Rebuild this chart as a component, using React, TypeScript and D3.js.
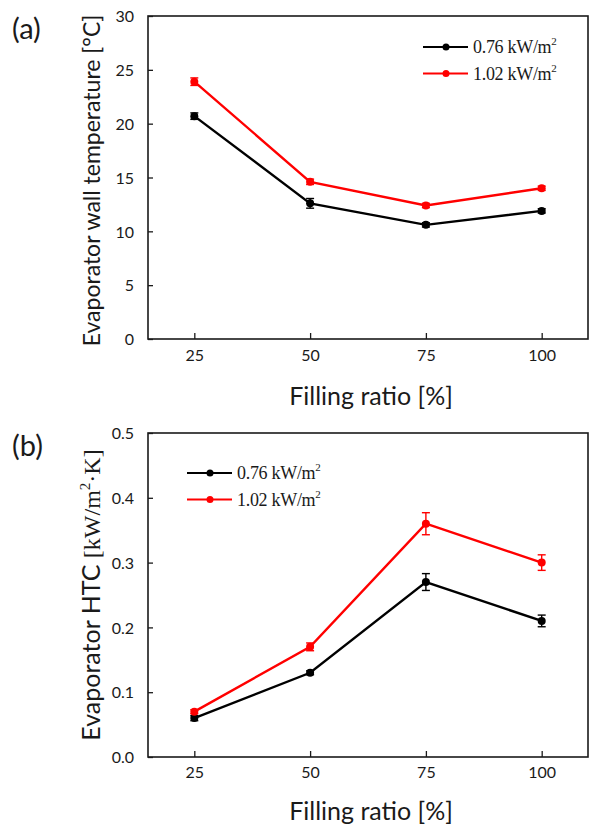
import React, { useEffect, useRef } from 'react';
import * as d3 from 'd3';

// filling ratio (%)
const fillingRatio = [25, 50, 75, 100];
const seriesNames = ['0.76 kW/m', '1.02 kW/m'];
const seriesColors = ['#000000', '#ff0000'];

// (a) evaporator wall temperature [°C]
const wallTempLow = [20.7, 12.6, 10.6, 11.9];
const wallTempLowErr = [0.3, 0.45, 0.2, 0.2];
const wallTempHigh = [23.9, 14.6, 12.4, 14.0];
const wallTempHighErr = [0.35, 0.25, 0.2, 0.2];
const tempTicks = [0, 5, 10, 15, 20, 25, 30];

// (b) evaporator HTC [kW/m2K]
const htcLow = [0.06, 0.13, 0.27, 0.21];
const htcLowErr = [0.004, 0.003, 0.013, 0.009];
const htcHigh = [0.07, 0.17, 0.36, 0.30];
const htcHighErr = [0.003, 0.006, 0.017, 0.012];
const htcTicks = [0, 0.1, 0.2, 0.3, 0.4, 0.5];

const sans = "Lato, 'Open Sans', sans-serif";
const serif = "'Liberation Serif', 'DejaVu Serif', serif";
const ink = '#1a1a1a';

const App = () => {
  const svgRef = useRef<SVGSVGElement>(null);

  useEffect(() => {
    const svg = d3.select(svgRef.current);
    svg.selectAll('*').remove();

    const left = 148;
    const right = 588;

    const drawPanel = (opts: any) => {
      const { top, bottom, yDomain, yTicks, yFmt, series, label, legendX, legendY, yTitle, xTitleOffset, tickLabelOffset } = opts;
      const x = d3.scaleLinear().domain([15, 110]).range([left, right]);
      const y = d3.scaleLinear().domain(yDomain).range([bottom, top]);
      const g = svg.append('g');

      // frame
      g.append('rect')
        .attr('x', left).attr('y', top)
        .attr('width', right - left).attr('height', bottom - top)
        .attr('fill', 'none').attr('stroke', ink).attr('stroke-width', 1.6);

      // y axis (ticks inward)
      const yAxis = g.append('g')
        .attr('transform', `translate(${left},0)`)
        .call(d3.axisLeft(y).tickValues(yTicks).tickSizeInner(-5).tickSizeOuter(0).tickFormat(yFmt));
      yAxis.select('.domain').remove();
      yAxis.selectAll('line').attr('stroke', ink).attr('stroke-width', 1.3);
      yAxis.selectAll('text')
        .style('font-family', sans).style('font-size', '16px').attr('fill', ink)
        .attr('x', -14).attr('dy', '0.36em');

      // x axis (ticks inward)
      const xAxis = g.append('g')
        .attr('transform', `translate(0,${bottom})`)
        .call(d3.axisBottom(x).tickValues(fillingRatio).tickSizeInner(-6).tickSizeOuter(0));
      xAxis.select('.domain').remove();
      xAxis.selectAll('line').attr('stroke', ink).attr('stroke-width', 1.3);
      xAxis.selectAll('text')
        .style('font-family', sans).style('font-size', '16px').attr('fill', ink)
        .attr('y', tickLabelOffset).attr('dy', 0);

      // x title
      g.append('text')
        .attr('x', (left + right) / 2 + 3)
        .attr('y', bottom + xTitleOffset)
        .attr('text-anchor', 'middle')
        .style('font-family', sans).style('font-size', '25px').attr('fill', ink)
        .text('Filling ratio [%]');

      // y title
      yTitle(g, (top + bottom) / 2);

      // panel label
      g.append('text')
        .attr('x', 12).attr('y', top + 23)
        .style('font-family', sans).style('font-size', '29px').attr('fill', ink)
        .text(label);

      series.forEach((s: any, si: number) => {
        const pts = fillingRatio.map((f, i) => ({ f, v: s.values[i], e: s.err[i] }));
        const line = d3.line<any>().x(d => x(d.f)).y(d => y(d.v));
        g.append('path').datum(pts)
          .attr('d', line).attr('fill', 'none')
          .attr('stroke', seriesColors[si]).attr('stroke-width', 2.4);
        pts.forEach(d => {
          const cx = x(d.f);
          const y1 = y(d.v + d.e);
          const y2 = y(d.v - d.e);
          g.append('line').attr('x1', cx).attr('x2', cx).attr('y1', y1).attr('y2', y2)
            .attr('stroke', seriesColors[si]).attr('stroke-width', 1.4);
          [y1, y2].forEach(yy => g.append('line')
            .attr('x1', cx - 4).attr('x2', cx + 4).attr('y1', yy).attr('y2', yy)
            .attr('stroke', seriesColors[si]).attr('stroke-width', 1.4));
          g.append('circle').attr('cx', cx).attr('cy', y(d.v)).attr('r', 4)
            .attr('fill', seriesColors[si]);
        });
      });

      // legend
      seriesNames.forEach((name, i) => {
        const ly = legendY + i * 26.5;
        g.append('line').attr('x1', legendX).attr('x2', legendX + 45)
          .attr('y1', ly).attr('y2', ly)
          .attr('stroke', seriesColors[i]).attr('stroke-width', 1.8);
        g.append('circle').attr('cx', legendX + 23).attr('cy', ly).attr('r', 3.5).attr('fill', seriesColors[i]);
        const t = g.append('text').attr('x', legendX + 50).attr('y', ly + 6)
          .style('font-family', serif).style('font-size', '18px').attr('fill', ink)
          .style('letter-spacing', '-0.3px');
        t.append('tspan').text(name);
        t.append('tspan').attr('dy', -8).style('font-size', '11px').text('2');
      });
    };

    drawPanel({
      top: 16, bottom: 339, yDomain: [0, 30], yTicks: tempTicks, yFmt: d3.format('d'),
      series: [
        { values: wallTempLow, err: wallTempLowErr },
        { values: wallTempHigh, err: wallTempHighErr },
      ],
      label: '(a)', legendX: 423, legendY: 47, xTitleOffset: 66, tickLabelOffset: 22,
      yTitle: (g: any, cy: number) => {
        g.append('text')
          .attr('transform', `translate(100,${cy + 3}) rotate(-90)`)
          .attr('text-anchor', 'middle')
          .style('font-family', sans).style('font-size', '23px').attr('fill', ink)
          .text('Evaporator wall temperature [°C]');
      },
    });

    drawPanel({
      top: 433, bottom: 757, yDomain: [0, 0.5], yTicks: htcTicks, yFmt: d3.format('.1f'),
      series: [
        { values: htcLow, err: htcLowErr },
        { values: htcHigh, err: htcHighErr },
      ],
      label: '(b)', legendX: 187, legendY: 473, xTitleOffset: 63, tickLabelOffset: 21,
      yTitle: (g: any, cy: number) => {
        const t = g.append('text')
          .attr('transform', `translate(100,${cy}) rotate(-90)`)
          .attr('text-anchor', 'middle')
          .attr('fill', ink);
        t.append('tspan').style('font-family', sans).style('font-size', '25px').text('Evaporator HTC ');
        t.append('tspan').style('font-family', serif).style('font-size', '24px').text('[kW/m');
        t.append('tspan').attr('dy', -10).style('font-family', serif).style('font-size', '15px').text('2');
        t.append('tspan').attr('dy', 10).style('font-family', serif).style('font-size', '24px').text('·K]');
      },
    });
  }, []);

  return (
    <svg ref={svgRef} width={591} height={828}
      style={{ position: 'absolute', left: 0, top: 0, background: '#fff' }} />
  );
};

export default App;
